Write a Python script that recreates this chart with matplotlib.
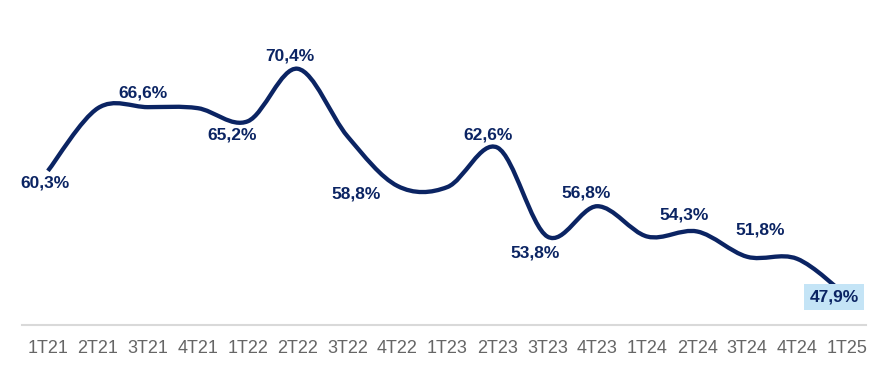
import numpy as np
import matplotlib.pyplot as plt
from matplotlib.path import Path
from matplotlib.patches import PathPatch

# Quarters and ratio values (%)
quarters = ['1T21', '2T21', '3T21', '4T21', '1T22', '2T22', '3T22', '4T22', '1T23',
            '2T23', '3T23', '4T23', '1T24', '2T24', '3T24', '4T24', '1T25']
values = [60.3, 66.5, 66.6, 66.5, 65.2, 70.4, 63.7, 58.8, 58.7,
          62.6, 53.8, 56.8, 53.8, 54.3, 51.8, 51.6, 47.9]

# Which points carry a label
label_idx = [0, 2, 4, 5, 7, 9, 10, 11, 13, 14, 16]
# label offsets in pixels (dx, dy)
label_off = [(-3, -12), (-5, 14), (-16, -14), (-8, 13), (-41, -8), (-9, 13),
             (-12, -16), (-11, 13), (-13, 16), (13, 27), (-13, -1)]

navy = '#0B2463'

fig = plt.figure(figsize=(8.86, 3.73), dpi=100)
ax = fig.add_axes([0.0248, 0.1287, 0.9526, 0.8713])

x = np.arange(len(values))
y = np.array(values)

# Smoothed line (Catmull-Rom as cubic bezier, like Excel's smoothed line)
pts = np.column_stack([x, y])
verts = [pts[0]]
codes = [Path.MOVETO]
n = len(pts)
for i in range(n - 1):
    p0 = pts[max(i - 1, 0)]
    p1 = pts[i]
    p2 = pts[i + 1]
    p3 = pts[min(i + 2, n - 1)]
    c1 = p1 + (p2 - p0) / 6
    c2 = p2 - (p3 - p1) / 6
    verts += [c1, c2, p2]
    codes += [Path.CURVE4] * 3
ax.add_patch(PathPatch(Path(verts, codes), fill=False, ec=navy, lw=3.1,
                       capstyle='butt', joinstyle='round', zorder=2))

for k, (i, off) in enumerate(zip(label_idx, label_off)):
    txt = f'{values[i]:.1f}%'.replace('.', ',')
    kw = {}
    if i == len(values) - 1:
        kw['bbox'] = dict(boxstyle='square,pad=0.3', fc='#C4E4F6', ec='none')
    ax.annotate(txt, (x[i], y[i]), xytext=off, textcoords='offset pixels',
                ha='center', va='center', fontsize=12.5, fontweight='bold',
                color=navy, family=['Liberation Sans', 'DejaVu Sans'], zorder=5, **kw)

ax.set_xlim(-0.52, 16.38)
ax.set_ylim(45.05, 77.2)
ax.set_xticks(x)
ax.set_xticklabels(quarters, color='#666666', fontsize=13,
                   family=['Liberation Sans Narrow', 'Liberation Sans', 'DejaVu Sans'])
ax.tick_params(axis='x', length=0, pad=11)
ax.set_yticks([])
for s in ['top', 'left', 'right']:
    ax.spines[s].set_visible(False)
ax.spines['bottom'].set_color('#D9D9D9')
ax.spines['bottom'].set_linewidth(1.5)

fig.savefig('out.png', dpi=100)
